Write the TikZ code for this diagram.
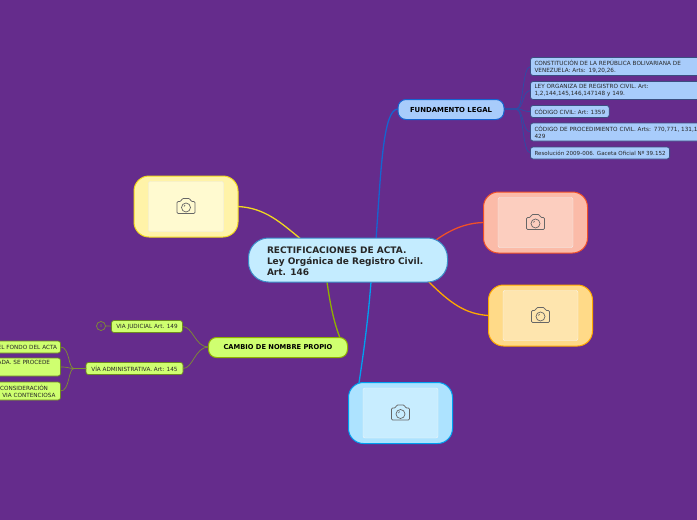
\documentclass[tikz,border=0pt]{standalone}
\usepackage{fontspec}
\setmainfont{DejaVu Sans}
\definecolor{bgp}{HTML}{652C8C}
\definecolor{blue0}{HTML}{A8CCFB}
\definecolor{green0}{HTML}{90B000}
\definecolor{green1}{HTML}{CFFF70}
\definecolor{twigg}{HTML}{7F8F30}
\definecolor{twigb}{HTML}{2A4FA8}
\definecolor{leafb}{HTML}{3B4E80}
\definecolor{leafg}{HTML}{6E8A20}
\definecolor{trunkblue}{HTML}{1565D0}
\definecolor{trunkyel}{HTML}{F0D820}
\definecolor{trunkred}{HTML}{F05028}
\definecolor{trunkora}{HTML}{FFA800}
\definecolor{trunksky}{HTML}{00A0F0}
\definecolor{yfill}{HTML}{FFF3A8}
\definecolor{yin}{HTML}{FFFAD0}
\definecolor{rfill}{HTML}{FBBBA8}
\definecolor{rin}{HTML}{FCCEBF}
\definecolor{ofill}{HTML}{FFDA88}
\definecolor{oin}{HTML}{FEE5AE}
\definecolor{sfill}{HTML}{ADE3FF}
\definecolor{sin}{HTML}{C8EDFF}
\definecolor{rootfill}{HTML}{C4ECFF}
\definecolor{rootline}{HTML}{3A8CC8}
\tikzset{x=1pt,y=-1pt,
 every node/.style={inner sep=0pt,outer sep=0pt},
 imgbox/.style={draw=#1,line width=1pt,rounded corners=15pt,minimum width=104pt,minimum height=61pt},
 imginner/.style={rounded corners=2pt,minimum width=75pt,minimum height=50pt},
 leafblue/.style={draw=leafb,fill=blue0,line width=.8pt,rounded corners=2.5pt,anchor=north west,minimum height=12pt,font=\fontsize{5.7}{7}\selectfont,text=black!85,align=left},
 leafgreen/.style={draw=leafg,fill=green1,line width=.7pt,rounded corners=2.5pt,font=\fontsize{5.7}{7}\selectfont,text=black!85,align=center},
 trunk/.style={line width=1.3pt},
 twig/.style={line width=.7pt},
}
\newcommand{\camicon}[1]{%
 \begin{scope}[shift={(#1)},draw=black!60,line width=.7pt]
  \draw[rounded corners=1.2pt] (-9,-5) -- (-5,-5) -- (-4,-8) -- (4,-8) -- (5,-5) -- (9,-5) -- (9,7) -- (-9,7) -- cycle;
  \draw (0,1) circle (4.5pt);
  \draw (-2,0) -- (-1,-1.5);
 \end{scope}}
\begin{document}
\begin{tikzpicture}
\useasboundingbox (0,0) rectangle (697,520);
\fill[bgp] (0,0) rectangle (697,520);
\node[minimum width=199pt,minimum height=44pt] (root) at (348,260) {};
\node[minimum width=106pt,minimum height=20pt] (fund) at (451,109) {};
\node[minimum width=139pt,minimum height=20pt] (camb) at (278,347) {};
\node[minimum width=104pt,minimum height=61pt] (yel) at (186,206.5) {};
\node[minimum width=104pt,minimum height=61pt] (red) at (535.5,222.5) {};
\node[minimum width=104pt,minimum height=61pt] (ora) at (540.5,315.5) {};
\node[minimum width=104pt,minimum height=61pt] (sky) at (400.5,413) {};
% trunks
\draw[trunk,draw=trunkblue] (376,240) .. controls (381,170) and (383,109) .. (fund.west);
\draw[trunk,draw=green0] (327,282) .. controls (331,310) and (335,325) .. (340,338);
\draw[trunk,draw=trunkyel] (302,240) .. controls (280,222) and (265,208) .. (yel.east);
\draw[trunk,draw=trunkred] (436,240) .. controls (450,230) and (465,223) .. (red.west);
\draw[trunk,draw=trunkora] (428,281) .. controls (450,303) and (465,314) .. (ora.west);
\draw[trunk,draw=trunksky] (371,282) .. controls (368,320) and (364,350) .. (359,383);
% image nodes
\node[imgbox=trunkyel,fill=yfill] at (yel) {};
\node[imginner,draw=black!8,fill=yin] at (yel) {};
\camicon{186,206.5}
\node[imgbox=trunkred,fill=rfill] at (red) {};
\node[imginner,draw=black!5,fill=rin] at (red) {};
\camicon{535.5,222.5}
\node[imgbox=trunkora,fill=ofill] at (ora) {};
\node[imginner,draw=black!3,fill=oin] at (ora) {};
\camicon{540.5,315.5}
\node[imgbox=trunksky,fill=sfill] at (sky) {};
\node[imginner,draw=black!4,fill=sin] at (sky) {};
\camicon{400.5,413}
% root
\node[draw=rootline,fill=rootfill,line width=1pt,rounded corners=20pt,minimum width=199pt,minimum height=44pt] at (root) {};
\node[anchor=west,align=left,font=\fontsize{9}{11}\selectfont\bfseries,text=black!85] at (267,261) {RECTIFICACIONES DE ACTA.\\Ley Orgánica de Registro Civil.\\Art. 146};
% fundamento
\node[draw=trunkblue,fill=blue0,line width=1pt,rounded corners=8pt,minimum width=106pt,minimum height=20pt,font=\fontsize{6.9}{8}\selectfont\bfseries] at (451,109.5) {FUNDAMENTO LEGAL};
% camb
\node[draw=green0,fill=green1,line width=1pt,rounded corners=8pt,minimum width=139pt,minimum height=20pt,font=\fontsize{6.7}{8}\selectfont\bfseries] at (278,347.5) {CAMBIO DE NOMBRE PROPIO};
% blue leaves
\node[leafblue,minimum width=180pt,minimum height=18pt,text width=172pt,inner xsep=4pt] (l1) at (530.5,57.5) {CONSTITUCIÓN DE LA REPÚBLICA BOLIVARIANA DE\\VENEZUELA: Arts: 19,20,26.};
\node[leafblue,minimum width=180pt,minimum height=18pt,text width=172pt,inner xsep=4pt] (l2) at (530.5,81.5) {LEY ORGANIZA DE REGISTRO CIVIL. Art:\\1,2,144,145,146,147148 y 149.};
\node[leafblue,inner xsep=4pt] (l3) at (530.5,105.5) {CÓDIGO CIVIL: Art: 1359};
\node[leafblue,minimum width=180pt,minimum height=18pt,text width=172pt,inner xsep=4pt] (l4) at (530.5,123) {CÓDIGO DE PROCEDIMIENTO CIVIL. Arts: 770,771, 131,1\\429};
\node[leafblue,inner xsep=4pt,font=\fontsize{5.55}{7}\selectfont] (l5) at (530.5,147) {Resolución 2009-006. Gaceta Oficial Nº 39.152};
\foreach \n in {l1,l2,l3,l4,l5}
 \draw[twig,draw=twigb] (fund.east) -- (516,109) .. controls (524,109) and (522,0|-\n.west) .. (\n.west);
% green
\node[leafgreen,minimum width=71pt,minimum height=12pt] (vj) at (147,326.5) {VIA JUDICIAL Art. 149};
\node[leafgreen,minimum width=97pt,minimum height=12pt] (va) at (134.5,368.5) {VÍA ADMINISTRATIVA. Art: 145};
\node[draw=twigg,line width=.7pt,circle,minimum size=9pt,font=\fontsize{4}{4}\selectfont,text=twigg] (n3) at (101,326) {3};
\draw[twig,draw=twigg] (n3) -- (vj);
\draw[twig,draw=twigg] (camb.west) .. controls (195,347) and (193,326.5) .. (vj.east);
\draw[twig,draw=twigg] (camb.west) .. controls (195,347) and (193,368.5) .. (va.east);
\node[leafgreen,minimum height=12pt,anchor=north east,text width=69pt,align=right,inner xsep=3.5pt] (g1) at (60.5,341) {EL FONDO DEL ACTA};
\node[leafgreen,minimum height=18pt,anchor=north east,text width=69pt,align=right,inner xsep=3.5pt] (g2) at (60.5,358) {\mbox{ADA. SE PROCEDE\kern7pt}\\\strut};
\node[leafgreen,minimum height=18pt,anchor=north east,text width=69pt,align=right,inner xsep=3.5pt] (g3) at (60.5,382) {\mbox{CONSIDERACIÓN\kern9pt}\\\mbox{VIA CONTENCIOSA\kern1.5pt}};
\foreach \n in {g1,g2,g3}
 \draw[twig,draw=twigg] (va.west) -- (74,368.5) .. controls (68,368.5) and (70,0|-\n.east) .. (\n.east);
\end{tikzpicture}
\end{document}
